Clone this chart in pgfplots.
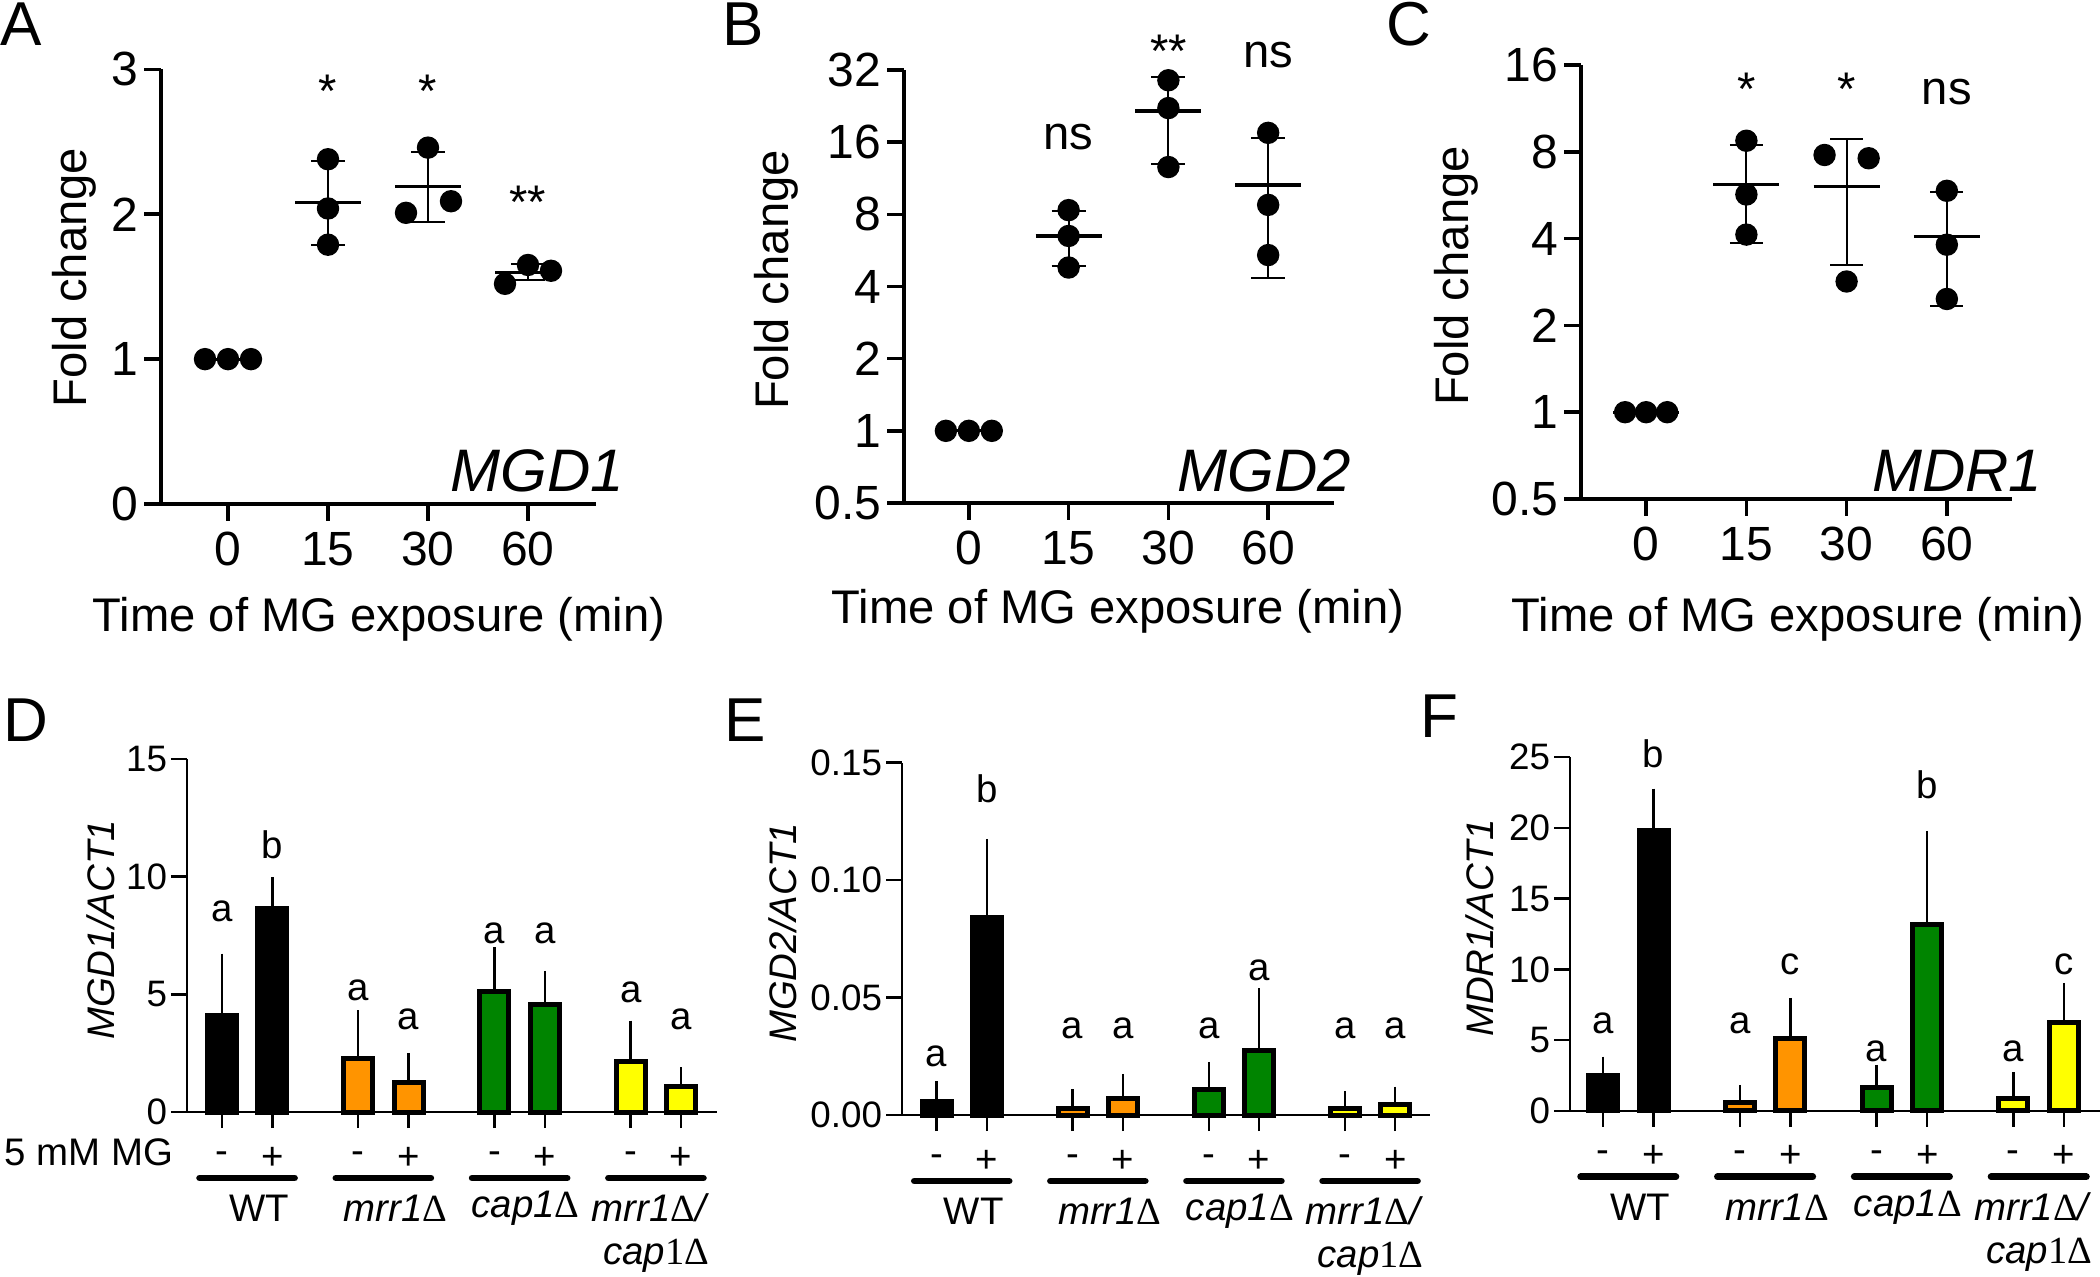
\documentclass[border=0pt]{standalone}
\usepackage{fontspec}
\setmainfont{Liberation Sans}
\newfontfamily\serifD{Liberation Serif}
\usepackage{pgfplots}
\pgfplotsset{compat=1.18}
\definecolor{barorange}{RGB}{255,148,0}
\definecolor{bargreen}{RGB}{0,132,0}
\definecolor{baryellow}{RGB}{255,255,0}
\newcommand{\fs}[1]{\fontsize{#1}{#1}\selectfont}
\newcommand{\Dl}{{\serifD Δ}}
\pgfplotsset{
  topax/.style={
    scale only axis, clip=false,
    axis x line*=bottom, axis y line*=left,
    axis line style={-, line width=0.9pt},
    tick style={line width=0.9pt, black},
    tick align=outside, major tick length=4.2pt,
    xtick={0,1,2,3}, xticklabels={0,15,30,60},
    tick label style={font=\fs{12}, inner sep=0pt},
    xticklabel style={anchor=center, yshift=-7pt},
    yticklabel style={anchor=east, xshift=-1.3pt},
    yminorticks=false, xminorticks=false,
  },
  botax/.style={
    scale only axis, clip=false,
    axis x line*=bottom, axis y line*=left,
    axis line style={-, line width=0.6pt},
    tick style={line width=0.6pt, black},
    tick align=outside, major tick length=4pt,
    ymin=0,
    xtick={0,1,2.7,3.7,5.4,6.4,8.1,9.1},
    xticklabels={-,+,-,+,-,+,-,+},
    tick label style={font=\fs{9.2}, inner sep=0pt},
    xticklabel style={anchor=center, yshift=-7.5pt, font=\fs{9.6}},
    yticklabel style={anchor=east, xshift=-0.8pt},
    ybar, bar width=7.25pt,
  },
  barplot/.style={draw=black, line width=1.25pt, fill=#1, bar shift=0pt,
    error bars/.cd, y dir=plus, y explicit,
    error bar style={line width=0.6pt, black},
    error mark options={line width=0.6pt, mark size=2.5pt, black}},
  errb/.style={black, line width=0.5pt, unbounded coords=jump},
  meanl/.style={black, line width=0.8pt, unbounded coords=jump},
  dots/.style={only marks, mark=*, mark size=2.6pt, black},
}
\tikzset{lab/.style={inner sep=0pt, font=\fs{9.6}}, tlab/.style={inner sep=0pt, font=\fs{11.8}},
  grp/.style={line width=1.7pt, line cap=round}}
\newcommand{\groups}{%
\draw[grp] ([yshift=-16.5pt]axis cs:-0.44,0) -- ([yshift=-16.5pt]axis cs:1.44,0);
\draw[grp] ([yshift=-16.5pt]axis cs:2.26,0) -- ([yshift=-16.5pt]axis cs:4.14,0);
\draw[grp] ([yshift=-16.5pt]axis cs:4.96,0) -- ([yshift=-16.5pt]axis cs:6.84,0);
\draw[grp] ([yshift=-16.5pt]axis cs:7.66,0) -- ([yshift=-16.5pt]axis cs:9.54,0);
\node[lab] at ([yshift=-24pt, xshift=3pt]axis cs:0.5,0) {WT};
\node[lab] at ([yshift=-24pt, xshift=3pt]axis cs:3.2,0) {\textit{mrr1}\Dl};
\node[lab] at ([yshift=-24pt, xshift=1.5pt]axis cs:5.9,0) {\textit{cap1}\Dl};
\node[lab, anchor=east] at ([yshift=-24pt, xshift=13.5pt]axis cs:8.6,0) {\textit{mrr1}\Dl\textit{/}};
\node[lab, anchor=east] at ([yshift=-36pt, xshift=13.5pt]axis cs:8.6,0) {\textit{cap}{\serifD 1Δ}};
}
\begin{document}
\begin{tikzpicture}
\useasboundingbox (0,0) rectangle (525pt,319pt);
% ---------------- A
\begin{axis}[topax, at={(40.25pt,193pt)}, anchor=south west, width=108.75pt, height=108.65pt,
  xmin=-0.67, xmax=3.68, ymin=0, ymax=3, ytick={0,1,2,3}, yticklabels={0,1,2,3}]
\addplot[errb] coordinates {(1,1.79) (1,2.37) (1,nan) (0.83,2.37) (1.17,2.37) (1,nan) (0.83,1.79) (1.17,1.79) (1,nan)
 (2,1.95) (2,2.43) (1,nan) (1.83,2.43) (2.17,2.43) (1,nan) (1.83,1.95) (2.17,1.95) (1,nan)
 (3,1.545) (3,1.655) (1,nan) (2.83,1.655) (3.17,1.655) (1,nan) (2.83,1.545) (3.17,1.545)};
\addplot[meanl] coordinates {(-0.33,1) (0.33,1) (1,nan) (0.67,2.08) (1.33,2.08) (1,nan) (1.67,2.19) (2.33,2.19) (1,nan) (2.67,1.6) (3.33,1.6)};
\addplot[dots] coordinates {(-0.23,1) (0,1) (0.23,1) (1,2.38) (1,2.04) (1,1.79) (1.78,2.01) (2,2.46) (2.23,2.09) (2.77,1.52) (3,1.65) (3.23,1.61)};
\node[tlab, yshift=-2.4pt] at (axis cs:1,2.916) {*};
\node[tlab, yshift=-2.4pt] at (axis cs:2,2.916) {*};
\node[tlab, yshift=-2.4pt] at (axis cs:3,2.15) {**};
\end{axis}
% ---------------- B
\begin{axis}[topax, at={(226pt,193.25pt)}, anchor=south west, width=107.5pt, height=108.25pt,
  xmin=-0.65, xmax=3.66, ymode=log, log basis y=2, ymin=0.5, ymax=32,
  ytick={0.5,1,2,4,8,16,32}, yticklabels={0.5,1,2,4,8,16,32}]
\addplot[errb] coordinates {(1,4.85) (1,8.3) (1,nan) (0.83,8.3) (1.17,8.3) (1,nan) (0.83,4.85) (1.17,4.85) (1,nan)
 (2,13.0) (2,30.0) (1,nan) (1.83,30.0) (2.17,30.0) (1,nan) (1.83,13.0) (2.17,13.0) (1,nan)
 (3,4.36) (3,16.7) (1,nan) (2.83,16.7) (3.17,16.7) (1,nan) (2.83,4.36) (3.17,4.36)};
\addplot[meanl] coordinates {(-0.33,1) (0.33,1) (1,nan) (0.67,6.5) (1.33,6.5) (1,nan) (1.67,21.6) (2.33,21.6) (1,nan) (2.67,10.6) (3.33,10.6)};
\addplot[dots] coordinates {(-0.23,1) (0,1) (0.23,1) (1,8.33) (1,6.5) (1,4.8) (2,29.0) (2,22.2) (2,12.6) (3,17.5) (3,8.76) (3,5.41)};
\node[tlab] at (axis cs:1,16.8) {ns};
\node[tlab, yshift=-2.4pt] at (axis cs:2,42.2) {**};
\node[tlab] at (axis cs:3,36.9) {ns};
\end{axis}
% ---------------- C
\begin{axis}[topax, at={(395.25pt,194.25pt)}, anchor=south west, width=107.75pt, height=108.5pt,
  xmin=-0.65, xmax=3.65, ymode=log, log basis y=2, ymin=0.5, ymax=16,
  ytick={0.5,1,2,4,8,16}, yticklabels={0.5,1,2,4,8,16}]
\addplot[errb] coordinates {(1,3.87) (1,8.47) (1,nan) (0.835,8.47) (1.165,8.47) (1,nan) (0.835,3.87) (1.165,3.87) (1,nan)
 (2,3.25) (2,8.89) (1,nan) (1.835,8.89) (2.165,8.89) (1,nan) (1.835,3.25) (2.165,3.25) (1,nan)
 (3,2.33) (3,5.81) (1,nan) (2.835,5.81) (3.165,5.81) (1,nan) (2.835,2.33) (3.165,2.33)};
\addplot[meanl] coordinates {(-0.33,1) (0.33,1) (1,nan) (0.67,6.17) (1.33,6.17) (1,nan) (1.67,6.07) (2.33,6.07) (1,nan) (2.67,4.06) (3.33,4.06)};
\addplot[dots] coordinates {(-0.21,1) (0,1) (0.21,1) (1,8.74) (1,5.69) (1,4.13) (1.78,7.80) (2.22,7.60) (2,2.84) (3,5.86) (3,3.81) (3,2.47)};
\node[tlab, yshift=-2.4pt] at (axis cs:1,14.2) {*};
\node[tlab, yshift=-2.4pt] at (axis cs:2,14.2) {*};
\node[tlab] at (axis cs:3,12.9) {ns};
\end{axis}
% ---------------- D
\begin{axis}[botax, at={(46.75pt,41pt)}, anchor=south west, width=132.5pt, height=88.25pt,
  xmin=-0.69, xmax=9.81, ymax=15, ytick={0,5,10,15}, yticklabels={0,5,10,15}]
\addplot[barplot=black] coordinates {(0,4.1) +- (0,2.2) (1,8.66) +- (0,0.88)};
\addplot[barplot=barorange] coordinates {(2.7,2.27) +- (0,1.63) (3.7,1.26) +- (0,0.83)};
\addplot[barplot=bargreen] coordinates {(5.4,5.12) +- (0,1.46) (6.4,4.58) +- (0,0.99)};
\addplot[barplot=baryellow] coordinates {(8.1,2.15) +- (0,1.31) (9.1,1.10) +- (0,0.38)};
\node[lab] at (axis cs:0,8.53) {a};
\node[lab] at (axis cs:1,11.34) {b};
\node[lab] at (axis cs:2.7,5.18) {a};
\node[lab] at (axis cs:3.7,3.93) {a};
\node[lab] at (axis cs:5.4,7.6) {a};
\node[lab] at (axis cs:6.4,7.6) {a};
\node[lab] at (axis cs:8.1,5.1) {a};
\node[lab] at (axis cs:9.1,3.93) {a};
\groups
\end{axis}
% ---------------- E
\begin{axis}[botax, at={(225.5pt,40.25pt)}, anchor=south west, width=132pt, height=88.1pt,
  xmin=-0.685, xmax=9.79, ymax=0.15, ytick={0,0.05,0.1,0.15}, yticklabels={0.00,0.05,0.10,0.15}]
\addplot[barplot=black] coordinates {(0,0.0056) +- (0,0.0046) (1,0.0842) +- (0,0.0291)};
\addplot[barplot=barorange] coordinates {(2.7,0.0026) +- (0,0.0041) (3.7,0.0071) +- (0,0.0062)};
\addplot[barplot=bargreen] coordinates {(5.4,0.0107) +- (0,0.0077) (6.4,0.0274) +- (0,0.0223)};
\addplot[barplot=baryellow] coordinates {(8.1,0.0026) +- (0,0.0032) (9.1,0.0045) +- (0,0.0033)};
\node[lab] at (axis cs:0,0.025) {a};
\node[lab] at (axis cs:1,0.139) {b};
\node[lab] at (axis cs:2.7,0.0367) {a};
\node[lab] at (axis cs:3.7,0.0367) {a};
\node[lab] at (axis cs:5.4,0.0367) {a};
\node[lab] at (axis cs:6.4,0.0617) {a};
\node[lab] at (axis cs:8.1,0.0367) {a};
\node[lab] at (axis cs:9.1,0.0367) {a};
\groups
\end{axis}
% ---------------- F
\begin{axis}[botax, at={(392.5pt,41.3pt)}, anchor=south west, width=132.5pt, height=88.4pt,
  xmin=-0.65, xmax=9.81, ymax=25, ytick={0,5,10,15,20,25}, yticklabels={0,5,10,15,20,25}]
\addplot[barplot=black] coordinates {(0,2.5) +- (0,0.62) (1,19.82) +- (0,2.25)};
\addplot[barplot=barorange] coordinates {(2.7,0.56) +- (0,0.56) (3.7,5.1) +- (0,2.17)};
\addplot[barplot=bargreen] coordinates {(5.4,1.67) +- (0,0.87) (6.4,13.2) +- (0,5.88)};
\addplot[barplot=baryellow] coordinates {(8.1,0.87) +- (0,1.15) (9.1,6.27) +- (0,2.06)};
\node[lab] at (axis cs:0,6.18) {a};
\node[lab] at (axis cs:1,25.26) {b};
\node[lab] at (axis cs:2.7,6.18) {a};
\node[lab] at (axis cs:3.7,10.33) {c};
\node[lab] at (axis cs:5.4,4.23) {a};
\node[lab] at (axis cs:6.4,23.05) {b};
\node[lab] at (axis cs:8.1,4.23) {a};
\node[lab] at (axis cs:9.1,10.33) {c};
\groups
\end{axis}
% ---------------- labels
\node[tlab, rotate=90] at (18.5pt,249.6pt) {Fold change};
\node[tlab, rotate=90] at (194pt,249pt) {Fold change};
\node[tlab, rotate=90] at (364pt,250pt) {Fold change};
\node[tlab] at (94.75pt,164.25pt) {Time of MG exposure (min)};
\node[tlab] at (279.5pt,166.25pt) {Time of MG exposure (min)};
\node[tlab] at (449.5pt,164.25pt) {Time of MG exposure (min)};
\node[inner sep=0pt, anchor=base east, font=\fs{15}\itshape] at (156.25pt,196pt) {MGD1};
\node[inner sep=0pt, anchor=base east, font=\fs{15}\itshape] at (338pt,196pt) {MGD2};
\node[inner sep=0pt, anchor=base east, font=\fs{15}\itshape] at (510.75pt,196pt) {MDR1};
\node[lab, rotate=90, font=\fs{9.6}\itshape] at (25.25pt,86.5pt) {MGD1/ACT1};
\node[lab, rotate=90, font=\fs{9.6}\itshape] at (195.6pt,85.75pt) {MGD2/ACT1};
\node[lab, rotate=90, font=\fs{9.6}\itshape] at (370pt,87pt) {MDR1/ACT1};
\node[lab, anchor=east, font=\fs{9.6}] at (43.5pt,31pt) {5 mM MG};
\node[inner sep=0pt, anchor=base west, font=\fs{15.5}] at (0pt,307.5pt) {A};
\node[inner sep=0pt, anchor=base west, font=\fs{15.5}] at (180.5pt,307.5pt) {B};
\node[inner sep=0pt, anchor=base west, font=\fs{15.5}] at (346.5pt,307.5pt) {C};
\node[inner sep=0pt, anchor=base west, font=\fs{15.5}] at (0.75pt,133.5pt) {D};
\node[inner sep=0pt, anchor=base west, font=\fs{15.5}] at (181pt,133.5pt) {E};
\node[inner sep=0pt, anchor=base west, font=\fs{15.5}] at (355pt,134.5pt) {F};
\end{tikzpicture}
\end{document}
